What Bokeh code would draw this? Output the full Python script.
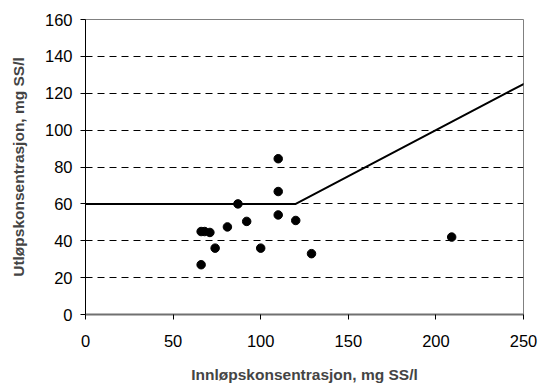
from bokeh.plotting import figure
from bokeh.models import Range1d, FixedTicker, ColumnDataSource
from bokeh.embed import file_html
from bokeh.resources import INLINE

# Data
inlet = [66, 66, 68, 71, 74, 81, 87, 92, 100, 110, 110, 110, 120, 129, 209]
outlet = [27, 45, 45, 44.5, 36, 47.5, 60, 50.5, 36, 84.5, 66.7, 54, 51, 33, 42]
limit_x = [0, 120, 254]
limit_y = [60, 60, 127]
x_ticks = [0, 50, 100, 150, 200, 250]
y_ticks = [0, 20, 40, 60, 80, 100, 120, 140, 160]

p = figure(width=540, height=385, output_backend="svg", toolbar_location=None,
           x_range=Range1d(0, 250), y_range=Range1d(0, 160),
           min_border_left=85, min_border_right=17, min_border_top=19, min_border_bottom=70)
p.outline_line_color = "#808080"
p.outline_line_width = 1
p.background_fill_color = "white"
p.border_fill_color = "white"

p.xaxis.ticker = FixedTicker(ticks=x_ticks)
p.yaxis.ticker = FixedTicker(ticks=y_ticks)
p.xaxis.axis_label = "Innløpskonsentrasjon, mg SS/l"
p.yaxis.axis_label = "Utløpskonsentrasjon, mg SS/l"
for ax in (p.xaxis[0], p.yaxis[0]):
    ax.axis_label_text_font = "Liberation Sans"
    ax.axis_label_text_font_style = "bold"
    ax.axis_label_text_font_size = "15.5px"
    ax.major_label_text_font = "Liberation Sans"
    ax.major_label_text_font_size = "16.5px"
    ax.major_label_text_color = "black"
    ax.minor_tick_line_color = None
    ax.major_tick_in = 0
    ax.major_tick_out = 5
    ax.major_tick_line_color = "black"
p.xaxis.axis_line_color = "#707070"
p.xaxis.axis_line_width = 2
p.yaxis.axis_line_color = "black"
p.yaxis.axis_line_width = 1
p.xaxis.major_label_standoff = 15
p.xaxis.axis_label_standoff = 16
p.yaxis.major_label_standoff = 8
p.yaxis.axis_label_standoff = 15

p.xgrid.grid_line_color = None
p.ygrid.grid_line_color = "black"
p.ygrid.grid_line_dash = "7 5"
p.ygrid.grid_line_width = 1

p.line(limit_x, limit_y, line_color="black", line_width=2)
src = ColumnDataSource(dict(x=inlet, y=outlet))
p.scatter("x", "y", source=src, size=8.5, fill_color="black", line_color="black")

open("out.html", "w").write(file_html(p, INLINE))
